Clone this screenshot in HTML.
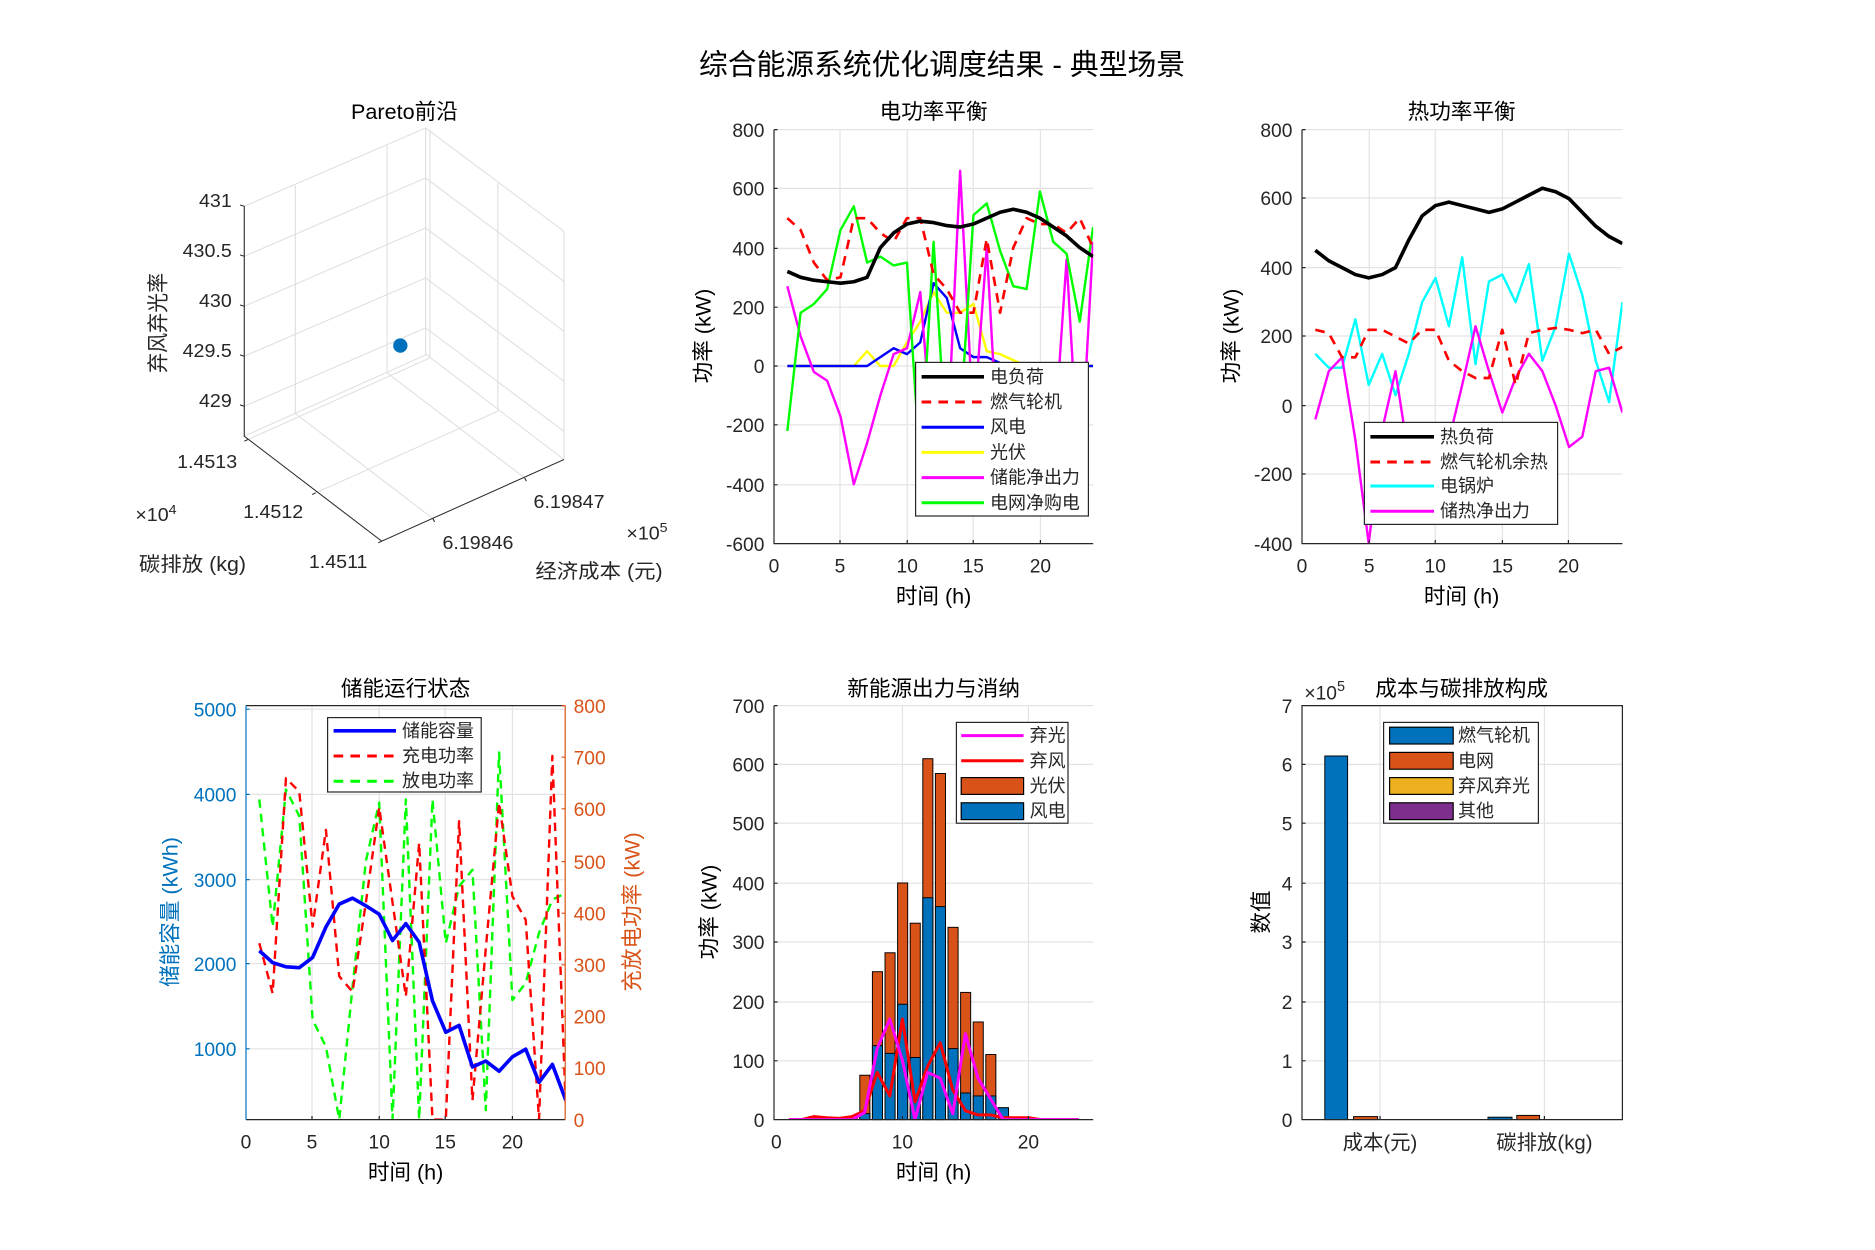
<!DOCTYPE html>
<html><head><meta charset="utf-8">
<style>
html,body{margin:0;padding:0;background:#fff;}
svg{display:block;}
text{font-family:"Liberation Sans","Noto Sans CJK SC",sans-serif;fill:#262626;}
.t{font-size:16px;}
.tt{font-size:18px;fill:#000;}
.lg{font-size:15px;fill:#000;}
.grid{stroke:#e3e3e3;stroke-width:1;}
.ax{stroke:#262626;stroke-width:1;fill:none;}
</style></head>
<body>
<svg id="s" width="1875" height="1250" viewBox="0 0 1562.5 1041.67" xmlns="http://www.w3.org/2000/svg">
<rect width="1562.5" height="1041.67" fill="#fff"/>
<text x="785" y="62" text-anchor="middle" style="font-size:24px;fill:#000">综合能源系统优化调度结果 - 典型场景</text>

<!-- ============ Plot 1 : 3D ============ -->
<text x="337" y="99" text-anchor="middle" class="tt">Pareto前沿</text>
<g transform="translate(108.33,74.7) scale(0.2976,0.2777)">
  <g stroke="#dedede" stroke-width="3" fill="none">
    <path d="M320,350 L828,115 L1215,425"/>
    <path d="M320,500 L828,265 L1215,575"/>
    <path d="M320,650 L828,415 L1215,725"/>
    <path d="M320,800 L828,565 L1215,875"/>
    <path d="M320,950 L828,715 L1215,1025"/>
    <path d="M828,115 L828,795"/>
    <path d="M320,1040 L830,795 L1215,1110"/>
    <path d="M848,1287 L463,972 L463,287"/>
    <path d="M1105,1165 L720,850 L720,168"/>
    <path d="M520,1210 L1030,965 L1030,280"/>
    <path d="M330,1050 L840,805 L840,120"/>
    <path d="M1215,425 L1215,1110"/>
  </g>
  <g stroke="#262626" stroke-width="3" fill="none">
    <path d="M320,350 L320,1040 L705,1355 L1215,1110"/>
    <path d="M320,350 l-12,-4 M320,500 l-12,-4 M320,650 l-12,-4 M320,800 l-12,-4 M320,950 l-12,-4"/>
    <path d="M330,1050 l-10,5 M520,1210 l-10,5 M705,1355 l-10,5"/>
    <path d="M848,1287 l5,10 M1105,1165 l5,10"/>
  </g>
  <ellipse cx="757" cy="768" rx="20" ry="21.4" fill="#0072bd"/>
  <g style="font-size:55px">
    <text x="285" y="352" text-anchor="end">431</text>
    <text x="285" y="502" text-anchor="end">430.5</text>
    <text x="285" y="652" text-anchor="end">430</text>
    <text x="285" y="802" text-anchor="end">429.5</text>
    <text x="285" y="952" text-anchor="end">429</text>
    <text x="300" y="1135" text-anchor="end">1.4513</text>
    <text x="485" y="1285" text-anchor="end">1.4512</text>
    <text x="665" y="1435" text-anchor="end">1.4511</text>
    <text x="875" y="1378">6.19846</text>
    <text x="1130" y="1255">6.19847</text>
    <text x="15" y="1295">×10<tspan dy="-22" style="font-size:40px">4</tspan></text>
    <text x="1390" y="1350">×10<tspan dy="-22" style="font-size:40px">5</tspan></text>
    <text x="25" y="1445" style="font-size:60px">碳排放 (kg)</text>
    <text x="1135" y="1465" style="font-size:60px">经济成本 (元)</text>
    <text transform="translate(100,700) rotate(-90)" text-anchor="middle" style="font-size:60px">弃风弃光率</text>
  </g>
</g>

<!-- ============ Plot 2 ============ -->
<text x="778" y="99" text-anchor="middle" class="tt">电功率平衡</text>
<g class="grid">
<line x1="645" y1="108" x2="911" y2="108"/><line x1="645" y1="157" x2="911" y2="157"/><line x1="645" y1="207" x2="911" y2="207"/><line x1="645" y1="256" x2="911" y2="256"/><line x1="645" y1="305" x2="911" y2="305"/><line x1="645" y1="354" x2="911" y2="354"/><line x1="645" y1="404" x2="911" y2="404"/>
<line x1="700" y1="108" x2="700" y2="453"/><line x1="756" y1="108" x2="756" y2="453"/><line x1="811" y1="108" x2="811" y2="453"/><line x1="867" y1="108" x2="867" y2="453"/>
</g>
<g id="p2"></g>
<path class="ax" d="M645,108 L645,453 L911,453 M645,108 h3 M645,157 h3 M645,207 h3 M645,256 h3 M645,305 h3 M645,354 h3 M645,404 h3 M700,453 v-3 M756,453 v-3 M811,453 v-3 M867,453 v-3"/>
<g class="t" text-anchor="end">
<text x="637" y="114">800</text><text x="637" y="163">600</text><text x="637" y="213">400</text><text x="637" y="262">200</text><text x="637" y="311">0</text><text x="637" y="360">-200</text><text x="637" y="410">-400</text><text x="637" y="459">-600</text>
</g>
<g class="t" text-anchor="middle">
<text x="645" y="477">0</text><text x="700" y="477">5</text><text x="756" y="477">10</text><text x="811" y="477">15</text><text x="867" y="477">20</text>
</g>
<text x="778" y="503" text-anchor="middle" class="tt">时间 (h)</text>
<text transform="translate(592,280) rotate(-90)" text-anchor="middle" class="tt">功率 (kW)</text>
<rect x="763" y="302" width="144" height="128" fill="#fff" stroke="#262626" stroke-width="1"/>
<g stroke-width="2.5">
<line x1="768" y1="314" x2="820" y2="314" stroke="#000" stroke-width="3"/>
<line x1="768" y1="335" x2="820" y2="335" stroke="#f00" stroke-dasharray="8,6"/>
<line x1="768" y1="356" x2="820" y2="356" stroke="#00f"/>
<line x1="768" y1="377" x2="820" y2="377" stroke="#ff0"/>
<line x1="768" y1="398" x2="820" y2="398" stroke="#f0f"/>
<line x1="768" y1="419" x2="820" y2="419" stroke="#0f0"/>
</g>
<g class="lg"><text x="825" y="319">电负荷</text><text x="825" y="340">燃气轮机</text><text x="825" y="361">风电</text><text x="825" y="382">光伏</text><text x="825" y="403">储能净出力</text><text x="825" y="424">电网净购电</text></g>

<!-- ============ Plot 3 ============ -->
<text x="1218" y="99" text-anchor="middle" class="tt">热功率平衡</text>
<g class="grid">
<line x1="1085" y1="108" x2="1352" y2="108"/><line x1="1085" y1="165" x2="1352" y2="165"/><line x1="1085" y1="223" x2="1352" y2="223"/><line x1="1085" y1="280" x2="1352" y2="280"/><line x1="1085" y1="338" x2="1352" y2="338"/><line x1="1085" y1="395" x2="1352" y2="395"/>
<line x1="1141" y1="108" x2="1141" y2="453"/><line x1="1196" y1="108" x2="1196" y2="453"/><line x1="1252" y1="108" x2="1252" y2="453"/><line x1="1307" y1="108" x2="1307" y2="453"/>
</g>
<g id="p3"></g>
<path class="ax" d="M1085,108 L1085,453 L1352,453 M1085,108 h3 M1085,165 h3 M1085,223 h3 M1085,280 h3 M1085,338 h3 M1085,395 h3 M1141,453 v-3 M1196,453 v-3 M1252,453 v-3 M1307,453 v-3"/>
<g class="t" text-anchor="end">
<text x="1077" y="114">800</text><text x="1077" y="171">600</text><text x="1077" y="229">400</text><text x="1077" y="286">200</text><text x="1077" y="344">0</text><text x="1077" y="401">-200</text><text x="1077" y="459">-400</text>
</g>
<g class="t" text-anchor="middle">
<text x="1085" y="477">0</text><text x="1141" y="477">5</text><text x="1196" y="477">10</text><text x="1252" y="477">15</text><text x="1307" y="477">20</text>
</g>
<text x="1218" y="503" text-anchor="middle" class="tt">时间 (h)</text>
<text transform="translate(1032,280) rotate(-90)" text-anchor="middle" class="tt">功率 (kW)</text>
<rect x="1137" y="352" width="161" height="85" fill="#fff" stroke="#262626" stroke-width="1"/>
<g stroke-width="2.5">
<line x1="1142" y1="364" x2="1195" y2="364" stroke="#000" stroke-width="3"/>
<line x1="1142" y1="385" x2="1195" y2="385" stroke="#f00" stroke-dasharray="8,6"/>
<line x1="1142" y1="405" x2="1195" y2="405" stroke="#0ff"/>
<line x1="1142" y1="426" x2="1195" y2="426" stroke="#f0f"/>
</g>
<g class="lg"><text x="1200" y="369">热负荷</text><text x="1200" y="390">燃气轮机余热</text><text x="1200" y="410">电锅炉</text><text x="1200" y="431">储热净出力</text></g>

<!-- ============ Plot 4 ============ -->
<text x="338" y="580" text-anchor="middle" class="tt">储能运行状态</text>
<g class="grid">
<line x1="260" y1="588" x2="260" y2="933"/><line x1="316" y1="588" x2="316" y2="933"/><line x1="371" y1="588" x2="371" y2="933"/><line x1="427" y1="588" x2="427" y2="933"/>
<line x1="205" y1="874" x2="471" y2="874"/><line x1="205" y1="803" x2="471" y2="803"/><line x1="205" y1="733" x2="471" y2="733"/><line x1="205" y1="662" x2="471" y2="662"/><line x1="205" y1="591" x2="471" y2="591"/>
</g>
<g id="p4"></g>
<path d="M205,588 L471,588" stroke="#262626" stroke-width="1"/>
<path d="M205,933 L471,933 M260,933 v-3 M316,933 v-3 M371,933 v-3 M427,933 v-3" stroke="#262626" stroke-width="1" fill="none"/>
<path d="M205,588 L205,933 M205,591 h3 M205,662 h3 M205,733 h3 M205,803 h3 M205,874 h3" stroke="#0072bd" stroke-width="1" fill="none"/>
<path d="M471,588 L471,933 M471,588 h-3 M471,631 h-3 M471,674 h-3 M471,718 h-3 M471,761 h-3 M471,804 h-3 M471,847 h-3 M471,890 h-3" stroke="#d95319" stroke-width="1" fill="none"/>
<g class="t" text-anchor="end" style="fill:#0072bd">
<text x="197" y="597" style="fill:#0072bd">5000</text><text x="197" y="668" style="fill:#0072bd">4000</text><text x="197" y="739" style="fill:#0072bd">3000</text><text x="197" y="809" style="fill:#0072bd">2000</text><text x="197" y="880" style="fill:#0072bd">1000</text>
</g>
<g class="t">
<text x="478" y="594" style="fill:#d95319">800</text><text x="478" y="637" style="fill:#d95319">700</text><text x="478" y="680" style="fill:#d95319">600</text><text x="478" y="724" style="fill:#d95319">500</text><text x="478" y="767" style="fill:#d95319">400</text><text x="478" y="810" style="fill:#d95319">300</text><text x="478" y="853" style="fill:#d95319">200</text><text x="478" y="896" style="fill:#d95319">100</text><text x="478" y="939" style="fill:#d95319">0</text>
</g>
<g class="t" text-anchor="middle">
<text x="205" y="957">0</text><text x="260" y="957">5</text><text x="316" y="957">10</text><text x="371" y="957">15</text><text x="427" y="957">20</text>
</g>
<text x="338" y="983" text-anchor="middle" class="tt">时间 (h)</text>
<text transform="translate(148,760) rotate(-90)" text-anchor="middle" class="tt" style="fill:#0072bd">储能容量 (kWh)</text>
<text transform="translate(533,760) rotate(-90)" text-anchor="middle" class="tt" style="fill:#d95319">充放电功率 (kW)</text>
<rect x="273" y="598" width="128" height="62" fill="#fff" stroke="#262626" stroke-width="1"/>
<g stroke-width="2.5">
<line x1="278" y1="609" x2="330" y2="609" stroke="#00f" stroke-width="3"/>
<line x1="278" y1="630" x2="330" y2="630" stroke="#f00" stroke-dasharray="8,6"/>
<line x1="278" y1="651" x2="330" y2="651" stroke="#0f0" stroke-dasharray="8,6"/>
</g>
<g class="lg"><text x="335" y="614">储能容量</text><text x="335" y="635">充电功率</text><text x="335" y="656">放电功率</text></g>

<!-- ============ Plot 5 ============ -->
<text x="778" y="580" text-anchor="middle" class="tt">新能源出力与消纳</text>
<g class="grid">
<line x1="645" y1="588" x2="911" y2="588"/><line x1="645" y1="637" x2="911" y2="637"/><line x1="645" y1="686" x2="911" y2="686"/><line x1="645" y1="736" x2="911" y2="736"/><line x1="645" y1="785" x2="911" y2="785"/><line x1="645" y1="835" x2="911" y2="835"/><line x1="645" y1="884" x2="911" y2="884"/>
<line x1="752" y1="588" x2="752" y2="933"/><line x1="857" y1="588" x2="857" y2="933"/>
</g>
<g id="p5"></g>
<path class="ax" d="M645,588 L645,933 L911,933 M645,588 h3 M645,637 h3 M645,686 h3 M645,736 h3 M645,785 h3 M645,835 h3 M645,884 h3 M752,933 v-3 M857,933 v-3"/>
<g class="t" text-anchor="end">
<text x="637" y="594">700</text><text x="637" y="643">600</text><text x="637" y="692">500</text><text x="637" y="742">400</text><text x="637" y="791">300</text><text x="637" y="841">200</text><text x="637" y="890">100</text><text x="637" y="939">0</text>
</g>
<g class="t" text-anchor="middle">
<text x="647" y="957">0</text><text x="752" y="957">10</text><text x="857" y="957">20</text>
</g>
<text x="778" y="983" text-anchor="middle" class="tt">时间 (h)</text>
<text transform="translate(597,760) rotate(-90)" text-anchor="middle" class="tt">功率 (kW)</text>
<rect x="797" y="602" width="93" height="84" fill="#fff" stroke="#262626" stroke-width="1"/>
<line x1="801" y1="613" x2="853" y2="613" stroke="#f0f" stroke-width="2.5"/>
<line x1="801" y1="634" x2="853" y2="634" stroke="#f00" stroke-width="2.5"/>
<rect x="801" y="648" width="52" height="14" fill="#d95319" stroke="#000" stroke-width="1"/>
<rect x="801" y="669" width="52" height="14" fill="#0072bd" stroke="#000" stroke-width="1"/>
<g class="lg"><text x="858" y="618">弃光</text><text x="858" y="639">弃风</text><text x="858" y="660">光伏</text><text x="858" y="681">风电</text></g>

<!-- ============ Plot 6 ============ -->
<text x="1218" y="580" text-anchor="middle" class="tt">成本与碳排放构成</text>
<g class="grid">
<line x1="1085" y1="588" x2="1352" y2="588"/><line x1="1085" y1="637" x2="1352" y2="637"/><line x1="1085" y1="686" x2="1352" y2="686"/><line x1="1085" y1="736" x2="1352" y2="736"/><line x1="1085" y1="785" x2="1352" y2="785"/><line x1="1085" y1="835" x2="1352" y2="835"/><line x1="1085" y1="884" x2="1352" y2="884"/>
<line x1="1150" y1="588" x2="1150" y2="933"/><line x1="1287" y1="588" x2="1287" y2="933"/>
</g>
<rect x="1104" y="630" width="19" height="303" fill="#0072bd" stroke="#000" stroke-width="0.8"/>
<rect x="1128" y="930.5" width="20" height="2.5" fill="#d95319" stroke="#000" stroke-width="0.8"/>
<rect x="1240" y="931" width="20" height="2" fill="#0072bd" stroke="#000" stroke-width="0.8"/>
<rect x="1264" y="929.5" width="19" height="3.5" fill="#d95319" stroke="#000" stroke-width="0.8"/>
<path class="ax" d="M1085,588 L1352,588 L1352,933 L1085,933 Z M1085,637 h3 M1085,686 h3 M1085,736 h3 M1085,785 h3 M1085,835 h3 M1085,884 h3 M1150,933 v-3 M1287,933 v-3"/>
<g class="t" text-anchor="end">
<text x="1077" y="594">7</text><text x="1077" y="643">6</text><text x="1077" y="692">5</text><text x="1077" y="742">4</text><text x="1077" y="791">3</text><text x="1077" y="841">2</text><text x="1077" y="890">1</text><text x="1077" y="939">0</text>
</g>
<text x="1087" y="583" class="t">×10<tspan dy="-7" style="font-size:12px">5</tspan></text>
<g class="t" text-anchor="middle" style="font-size:17px">
<text x="1150" y="958">成本(元)</text><text x="1287" y="958">碳排放(kg)</text>
</g>
<text transform="translate(1057,760) rotate(-90)" text-anchor="middle" class="tt">数值</text>
<rect x="1153" y="602" width="129" height="84" fill="#fff" stroke="#262626" stroke-width="1"/>
<rect x="1158" y="606" width="53" height="14" fill="#0072bd" stroke="#000" stroke-width="1"/>
<rect x="1158" y="627" width="53" height="14" fill="#d95319" stroke="#000" stroke-width="1"/>
<rect x="1158" y="648" width="53" height="14" fill="#edb120" stroke="#000" stroke-width="1"/>
<rect x="1158" y="669" width="53" height="14" fill="#7e2f8e" stroke="#000" stroke-width="1"/>
<g class="lg"><text x="1215" y="618">燃气轮机</text><text x="1215" y="639">电网</text><text x="1215" y="660">弃风弃光</text><text x="1215" y="681">其他</text></g>

<defs>
<clipPath id="c2"><rect x="645" y="108" width="266" height="345"/></clipPath>
<clipPath id="c3"><rect x="1085" y="108" width="267" height="345"/></clipPath>
<clipPath id="c4"><rect x="205" y="588" width="266" height="345"/></clipPath>
<clipPath id="c5"><rect x="645" y="588" width="266" height="345"/></clipPath>
</defs>
</svg>
<script>
(function(){
var NS="http://www.w3.org/2000/svg";
function pl(g,clip,X,Y,d,col,w,dash){
  var p=document.createElementNS(NS,"polyline");
  var pts=[];for(var i=0;i<d.length;i++){pts.push(X(i+1).toFixed(1)+","+Y(d[i]).toFixed(1));}
  p.setAttribute("points",pts.join(" "));p.setAttribute("fill","none");
  p.setAttribute("stroke",col);p.setAttribute("stroke-width",w);
  p.setAttribute("stroke-linejoin","round");
  if(dash)p.setAttribute("stroke-dasharray",dash);
  p.setAttribute("clip-path","url(#"+clip+")");
  document.getElementById(g).appendChild(p);
}
var X2=function(h){return 645+h*11.08;},Y2=function(v){return 305-v*0.2464;};
pl("p2","c2",X2,Y2,[0,0,0,0,0,0,50,0,0,80,150,250,180,180,210,50,40,20,0,0,0,0,0,0],"#ff0",2);
pl("p2","c2",X2,Y2,[0,0,0,0,0,0,0,30,60,40,80,280,230,60,30,30,10,0,0,0,0,0,0,0],"#00f",2);
pl("p2","c2",X2,Y2,[270,100,-20,-50,-170,-400,-260,-100,40,60,250,-300,-300,660,-200,400,-400,0,-300,-300,-300,360,-400,420],"#f0f",2);
pl("p2","c2",X2,Y2,[-220,180,210,260,460,540,350,370,340,350,-350,420,-300,-200,510,550,390,270,260,590,420,380,150,470],"#0f0",2);
pl("p2","c2",X2,Y2,[500,460,350,290,300,500,500,450,420,500,500,310,260,180,180,430,180,400,500,480,480,450,500,400],"#f00",2.2,"8,6");
pl("p2","c2",X2,Y2,[320,300,290,285,280,285,300,400,450,480,490,485,475,470,480,500,520,530,520,500,470,440,400,370],"#000",3);
var X3=function(h){return 1085+h*11.125;},Y3=function(v){return 338-v*0.2875;};
pl("p3","c3",X3,Y3,[150,110,110,250,60,150,30,150,300,370,230,430,120,360,380,300,410,130,230,440,320,130,10,300],"#0ff",2);
pl("p3","c3",X3,Y3,[-40,100,140,-100,-400,-70,100,-150,-300,-200,-100,60,230,100,-20,80,150,100,0,-120,-90,100,110,-20],"#f0f",2);
pl("p3","c3",X3,Y3,[220,210,140,140,220,220,200,180,220,220,130,100,80,80,220,60,210,220,225,220,210,220,150,170],"#f00",2.2,"8,6");
pl("p3","c3",X3,Y3,[450,420,400,380,370,380,400,480,550,580,590,580,570,560,570,590,610,630,620,600,560,520,490,470],"#000",3);
var X4=function(h){return 205+h*11.1;},YL=function(v){return 945-v*0.0707;},YR=function(v){return 933-v*0.431;};
pl("p4","c4",X4,YR,[619,373,638,587,193,141,0,257,500,613,0,619,0,619,341,451,483,18,710,231,264,361,425,438],"#0f0",2,"7,5");
pl("p4","c4",X4,YR,[341,244,660,634,373,560,277,247,420,604,420,238,535,0,0,577,37,330,613,432,386,0,703,31],"#f00",2,"7,5");
pl("p4","c4",X4,YL,[2160,2020,1970,1960,2080,2440,2710,2780,2690,2590,2280,2480,2260,1570,1200,1280,790,860,740,910,1000,610,820,400],"#00f",3);
var X5=function(h){return 647+h*10.5;},Y5=function(v){return 933-v*0.493;};
var tot=[0,0,5,2,2,5,75,250,282,400,332,610,585,325,215,165,110,20,2,0,0,0,0,0];
var wnd=[0,0,0,0,0,0,10,125,112,195,105,375,360,120,45,40,40,20,0,0,0,0,0,0];
var g5=document.getElementById("p5");
for(var i=0;i<24;i++){
  var x=X5(i+1)-4;
  if(tot[i]>0){
    var r=document.createElementNS(NS,"rect");
    r.setAttribute("x",x);r.setAttribute("width",8.4);
    r.setAttribute("y",Y5(tot[i]));r.setAttribute("height",tot[i]*0.493);
    r.setAttribute("fill","#d95319");r.setAttribute("stroke","#000");r.setAttribute("stroke-width","0.8");
    g5.appendChild(r);
  }
  if(wnd[i]>0){
    var r2=document.createElementNS(NS,"rect");
    r2.setAttribute("x",x);r2.setAttribute("width",8.4);
    r2.setAttribute("y",Y5(wnd[i]));r2.setAttribute("height",wnd[i]*0.493);
    r2.setAttribute("fill","#0072bd");r2.setAttribute("stroke","#000");r2.setAttribute("stroke-width","0.8");
    g5.appendChild(r2);
  }
}
pl("p5","c5",X5,Y5,[0,0,5,3,2,5,15,80,40,170,30,90,130,50,15,8,8,3,3,3,0,0,0,0],"#f00",2.5);
pl("p5","c5",X5,Y5,[0,0,0,0,0,0,12,120,170,100,0,80,70,10,145,70,35,0,0,0,0,0,0,0],"#f0f",2.5);
})();
</script>
</body></html>
